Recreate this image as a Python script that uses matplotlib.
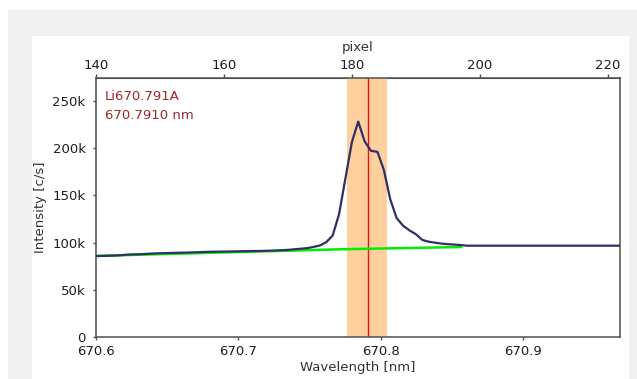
import numpy as np
import matplotlib
matplotlib.use("Agg")
import matplotlib.pyplot as plt
from matplotlib.patches import Rectangle
from matplotlib.ticker import FuncFormatter

# ---- data ----
pixel_first = 140
wl_first = 670.6            # wavelength of pixel 140 [nm]
dispersion = 0.004493       # nm per detector pixel
intensity_k = [
    85.8, 86.0, 86.2, 86.4, 86.8, 87.4, 87.6, 87.8, 88.2, 88.6,   # 140-149
    88.8, 89.0, 89.2, 89.4, 89.5, 89.7, 89.9, 90.2, 90.4, 90.5,   # 150-159
    90.6, 90.7, 90.8, 91.0, 91.1, 91.2, 91.3, 91.5, 91.7, 92.0,   # 160-169
    92.4, 93.0, 93.6, 94.2, 95.5, 97.0, 100.5, 107.5, 130.0, 168.0,  # 170-179
    206.0, 228.0, 207.0, 197.0, 196.0, 177.0, 146.0, 126.0, 118.0, 113.0,  # 180-189
    109.0, 103.0, 101.0, 100.0, 99.0, 98.4, 98.0, 97.5, 96.8, 96.8,  # 190-199
    96.8, 96.8, 96.8, 96.8, 96.8, 96.8, 96.8, 96.8, 96.8, 96.8,   # 200-209
    96.8, 96.8, 96.8, 96.8, 96.8, 96.8, 96.8, 96.8, 96.8, 96.8,   # 210-219
    96.8, 96.8, 96.8,                                             # 220-222
]
background_wl = [670.6, 670.7714, 670.8564]
background_k = [86.0, 93.0, 95.4]

line_label = "Li670.791A"
line_wl = 670.791
window_wl = [670.7761, 670.8042]

x_ticks = [670.6, 670.7, 670.8, 670.9]
pixel_ticks = [140, 160, 180, 200, 220]
y_ticks_k = [0, 50, 100, 150, 200, 250]

# ---- derived ----
pixels = np.arange(pixel_first, pixel_first + len(intensity_k))
wavelength = wl_first + (pixels - pixel_first) * dispersion
intensity = np.array(intensity_k) * 1000.0

def wl2px(w):
    return pixel_first + (np.asarray(w) - wl_first) / dispersion

def px2wl(p):
    return wl_first + (np.asarray(p) - pixel_first) * dispersion

plt.rcParams['font.family'] = ['DejaVu Sans']
W, H = 637, 379
fig = plt.figure(figsize=(W / 100, H / 100), dpi=100)
fig.patch.set_facecolor('white')

# panel backgrounds
fig.patches.append(Rectangle((8 / W, 0), 1 - 8 / W, 1 - 10 / H, transform=fig.transFigure,
                             facecolor='#f1f1f1', edgecolor='none', zorder=-10))
fig.patches.append(Rectangle((32 / W, 0), (629 - 32) / W, 1 - 36 / H, transform=fig.transFigure,
                             facecolor='white', edgecolor='none', zorder=-9))

ax = fig.add_axes([96 / W, 1 - 337.3 / H, (620 - 96) / W, (337.3 - 78) / H])
ax.set_facecolor('white')

ax.axvspan(window_wl[0], window_wl[1], color='#ffcf9e', lw=0, zorder=1)
ax.axvline(line_wl, color='#ee1111', lw=1.0, zorder=2)
ax.plot(background_wl, np.array(background_k) * 1000, color='#00ee00', lw=1.8, zorder=3)
ax.plot(wavelength, intensity, color='#2f3064', lw=1.6, zorder=4)

ax.set_xlim(670.6, 670.9681)
ax.set_ylim(0, 274000)
ax.set_xticks(x_ticks)
ax.set_xticklabels([f"{t:.1f}" for t in x_ticks])
ax.set_yticks([v * 1000 for v in y_ticks_k])
ax.yaxis.set_major_formatter(FuncFormatter(lambda v, p: "0" if v == 0 else f"{int(round(v / 1000))}k"))

text_color = '#1e1e1e'
for s in ax.spines.values():
    s.set_color('#505050')
    s.set_linewidth(1.1)
ax.tick_params(axis='both', labelsize=9.5, colors='#505050', labelcolor=text_color,
               length=2.5, width=1.0, pad=3)
ax.tick_params(axis='y', pad=5)

ax.set_xlabel("Wavelength [nm]", fontsize=9.5, color='#333333', labelpad=2)
ax.set_ylabel("Intensity [c/s]", fontsize=9.5, color='#333333', labelpad=4)

sec = ax.secondary_xaxis('top', functions=(wl2px, px2wl))
sec.set_xticks(pixel_ticks)
sec.tick_params(labelsize=9.5, colors='#505050', labelcolor=text_color, length=3, width=1.0, pad=1)
sec.set_xlabel("pixel", fontsize=9.5, color='#333333', labelpad=6)
sec.spines['top'].set_color('#505050')

red = '#9a2a2a'
ax.text(0.017, 0.927, line_label, transform=ax.transAxes, color=red, fontsize=9.5, va='center', ha='left')
ax.text(0.017, 0.857, f"{line_wl:.4f} nm", transform=ax.transAxes, color=red, fontsize=9.5, va='center', ha='left')

fig.savefig("out.png", dpi=100, facecolor=fig.get_facecolor())
